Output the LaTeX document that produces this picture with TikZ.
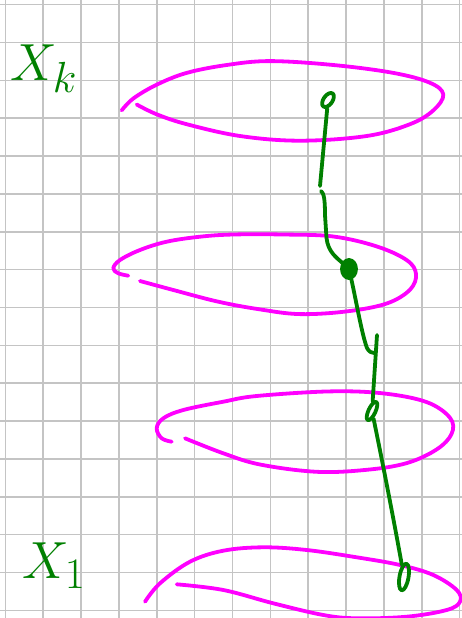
\documentclass[tikz,border=0pt]{standalone}
\usepackage{tikz}
\usetikzlibrary{shapes.geometric}
\definecolor{pen}{RGB}{0,128,0}
\definecolor{hoop}{RGB}{255,0,255}
\definecolor{paper}{RGB}{196,196,196}
\tikzstyle{gridline}=[paper,line width=1.6pt]
\tikzstyle{layer}=[hoop,line width=3.8pt,line cap=round,line join=round]
\tikzstyle{walk}=[pen,line width=3.8pt,line cap=round,line join=round]
\tikzstyle{knot}=[walk,draw,ellipse,inner sep=0pt]
\tikzstyle{label}=[pen,inner sep=0pt,anchor=base west,scale=2.1,transform shape]
\tikzstyle{every node}=[font=\fontsize{24.88}{26}\selectfont]

\begin{document}
\begin{tikzpicture}[x=1pt,y=-1pt]
    \useasboundingbox (0,0) rectangle (462,618);
    \fill[white] (0,0) rectangle (462,618);
    \clip (0,0) rectangle (462,618);
    \foreach \i in {0,...,12} \draw[gridline] (5.4+37.85*\i,0) -- (5.4+37.85*\i,618);
    \foreach \j in {0,...,16} \draw[gridline] (0,4.7+37.85*\j) -- (462,4.7+37.85*\j);
    \draw[layer] plot[smooth,tension=0.6] coordinates {(121.7,110.4) (133.3,98.5) (156.7,84.7) (186.7,72.9) (226.7,65) (270,61.1) (333.3,65) (393.3,72.9) (430,82.8) (443.3,94.6) (433.3,110.4) (410,124.2) (366.7,136) (300,140.7) (240,136) (186.7,124.2) (156.7,114.3) (136.7,104.5)};
    \draw[layer] plot[smooth,tension=0.6] coordinates {(128.3,275.7) (118.3,273.3) (113.3,268.3) (120,260) (140,250) (166.7,241.7) (200,236.7) (233.3,234.5) (283.3,234.5) (333.3,236.5) (376.7,246.4) (406.7,260.1) (416,273.9) (410,289.7) (386.7,303.5) (346.7,311.4) (300,314.1) (260,309.4) (218.3,301.7) (173.3,290) (140,281)};
    \draw[layer] plot[smooth,tension=0.6] coordinates {(171.7,441.7) (161.7,438.3) (156.7,428.3) (163.3,418.3) (183.3,410) (223.3,401.7) (256.7,396) (330,391.4) (383.3,393.4) (426.7,402.1) (450,417.8) (451.7,433.6) (436.7,449.4) (406.7,463.1) (366.7,469.8) (316.7,471.8) (260,464.5) (223.3,453.3) (185,438.3)};
    \draw[layer] plot[smooth,tension=0.6] coordinates {(145,601.7) (160,583.3) (190,561.7) (223.3,550.7) (263.3,547.3) (306.7,550) (356.7,557.3) (400,565) (433.3,575) (456.7,590) (460,601.7) (446.7,610) (406.7,616.7) (356.7,618.3) (323.3,615) (273.3,603.3) (223.3,590) (176.7,584.3)};
    \node[label] (xk) at (10,80) {$X_k$};
    \node[label] (x1) at (22,578) {$X_1$};
    \node[knot,minimum width=9pt,minimum height=16pt,rotate=-35] (v4) at (328,100) {};
    \node[knot,fill=pen,minimum width=14pt,minimum height=18pt] (v3) at (349,269) {};
    \node[knot,minimum width=7pt,minimum height=20pt,rotate=-25] (v2) at (372,411) {};
    \node[knot,minimum width=9pt,minimum height=27pt,rotate=-10] (v1) at (404,577) {};
    \coordinate (c1) at (320,186);
    \coordinate (c2) at (321,191);
    \coordinate (c3) at (374,353);
    \coordinate (c4) at (377,335);
    \draw[walk] (v4) -- (c1);
    \draw[walk] (c2) .. controls (324,193) and (325,200) .. (325,215) -- (326.5,238) .. controls (328,252) and (337,258) .. (v3);
    \draw[walk] (v3) .. controls (356,300) and (362,335) .. (367,348) .. controls (369,352) and (372,353) .. (c3);
    \draw[walk] (c4) -- (v2);
    \draw[walk] (v2) .. controls (380,450) and (392,510) .. (v1);
\end{tikzpicture}
\end{document}
